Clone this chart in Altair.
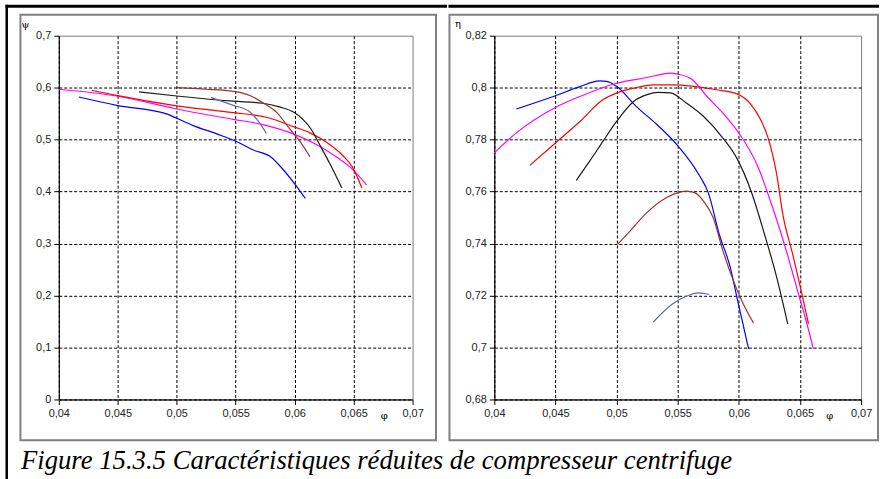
import altair as alt
import pandas as pd

# ---------------- data ----------------
curve_names = ["courbe 1", "courbe 2", "courbe 3", "courbe 4", "courbe 5", "courbe 6"]
curve_colors = ["#0000FF", "#FF00FF", "#FF0000", "#1A1A1A", "#993333", "#6464B4"]

x_ticks = [0.04, 0.045, 0.05, 0.055, 0.06, 0.065, 0.07]
psi_ticks = [0, 0.1, 0.2, 0.3, 0.4, 0.5, 0.6, 0.7]
eta_ticks = [0.68, 0.70, 0.72, 0.74, 0.76, 0.78, 0.80, 0.82]

# Left panel: psi = f(phi)
psi_phi_1 = [0.0417, 0.0449, 0.0492, 0.0500, 0.0514, 0.0534, 0.0551, 0.0565, 0.0579, 0.0590, 0.0600, 0.0609]
psi_val_1 = [0.582, 0.566, 0.549, 0.541, 0.527, 0.511, 0.496, 0.480, 0.468, 0.443, 0.415, 0.387]
psi_phi_2 = [0.0400, 0.0449, 0.0500, 0.0548, 0.0573, 0.0599, 0.0618, 0.0632, 0.0647, 0.0661]
psi_val_2 = [0.597, 0.584, 0.559, 0.539, 0.529, 0.511, 0.491, 0.472, 0.447, 0.413]
psi_phi_3 = [0.0428, 0.0449, 0.0500, 0.0548, 0.0576, 0.0599, 0.0613, 0.0627, 0.0641, 0.0649, 0.0657]
psi_val_3 = [0.595, 0.585, 0.565, 0.552, 0.543, 0.525, 0.513, 0.495, 0.469, 0.447, 0.407]
psi_phi_4 = [0.0468, 0.0500, 0.0548, 0.0573, 0.0587, 0.0599, 0.0607, 0.0614, 0.0621, 0.0630, 0.0640]
psi_val_4 = [0.592, 0.584, 0.574, 0.570, 0.563, 0.553, 0.539, 0.520, 0.491, 0.453, 0.407]
psi_phi_5 = [0.0500, 0.0525, 0.0548, 0.0562, 0.0573, 0.0585, 0.0596, 0.0604, 0.0613]
psi_val_5 = [0.600, 0.597, 0.593, 0.585, 0.571, 0.552, 0.520, 0.498, 0.467]
psi_phi_6 = [0.0529, 0.0548, 0.0561, 0.0568, 0.0576]
psi_val_6 = [0.581, 0.566, 0.555, 0.539, 0.512]

# Right panel: eta = f(phi)
eta_phi_1 = [0.0418, 0.0450, 0.0470, 0.0486, 0.0492, 0.0500, 0.0516, 0.0533, 0.0550, 0.0568, 0.0575, 0.0584, 0.0593, 0.0599, 0.0608]
eta_val_1 = [0.7918, 0.7969, 0.8004, 0.8026, 0.8024, 0.8005, 0.7928, 0.7858, 0.7777, 0.7660, 0.7596, 0.7436, 0.7308, 0.7181, 0.6995]
eta_phi_2 = [0.0400, 0.0418, 0.0450, 0.0470, 0.0500, 0.0525, 0.0544, 0.0550, 0.0561, 0.0574, 0.0587, 0.0599, 0.0616, 0.0624, 0.0633, 0.0642, 0.0648, 0.0655, 0.0661]
eta_val_2 = [0.7749, 0.7826, 0.7924, 0.7966, 0.8017, 0.8039, 0.8056, 0.8052, 0.8034, 0.7966, 0.7902, 0.7832, 0.7692, 0.7589, 0.7462, 0.7321, 0.7219, 0.7104, 0.6995]
eta_phi_3 = [0.0429, 0.0450, 0.0470, 0.0489, 0.0500, 0.0514, 0.0530, 0.0546, 0.0563, 0.0582, 0.0599, 0.0610, 0.0617, 0.0624, 0.0631, 0.0636, 0.0644, 0.0651, 0.0657]
eta_val_3 = [0.7701, 0.7787, 0.7870, 0.7954, 0.7979, 0.7998, 0.8011, 0.8011, 0.8005, 0.7992, 0.7975, 0.7935, 0.7884, 0.7806, 0.7666, 0.7512, 0.7360, 0.7219, 0.7091]
eta_phi_4 = [0.0467, 0.0478, 0.0489, 0.0500, 0.0514, 0.0525, 0.0534, 0.0544, 0.0557, 0.0571, 0.0587, 0.0599, 0.0610, 0.0621, 0.0631, 0.0640]
eta_val_4 = [0.7643, 0.7717, 0.7794, 0.7870, 0.7947, 0.7973, 0.7982, 0.7980, 0.7941, 0.7890, 0.7806, 0.7723, 0.7602, 0.7436, 0.7270, 0.7091]
eta_phi_5 = [0.0501, 0.0510, 0.0525, 0.0541, 0.0552, 0.0557, 0.0564, 0.0571, 0.0579, 0.0587, 0.0595, 0.0603, 0.0612]
eta_val_5 = [0.7398, 0.7443, 0.7520, 0.7577, 0.7598, 0.7602, 0.7596, 0.7564, 0.7500, 0.7372, 0.7264, 0.7174, 0.7094]
eta_phi_6 = [0.0530, 0.0546, 0.0557, 0.0567, 0.0576]
eta_val_6 = [0.7098, 0.7168, 0.7197, 0.7210, 0.7204]

caption = "Figure 15.3.5 Caractéristiques réduites de compresseur centrifuge"

# ---------------- build tables ----------------
def table(pairs, yname):
    rows = []
    for name, (xs, ys) in zip(curve_names, pairs):
        for i, (xv, yv) in enumerate(zip(xs, ys)):
            rows.append({"phi": xv, yname: yv, "curve": name, "idx": i})
    return pd.DataFrame(rows)

psi_df = table([(psi_phi_1, psi_val_1), (psi_phi_2, psi_val_2), (psi_phi_3, psi_val_3),
                (psi_phi_4, psi_val_4), (psi_phi_5, psi_val_5), (psi_phi_6, psi_val_6)], "psi")
eta_df = table([(eta_phi_1, eta_val_1), (eta_phi_2, eta_val_2), (eta_phi_3, eta_val_3),
                (eta_phi_4, eta_val_4), (eta_phi_5, eta_val_5), (eta_phi_6, eta_val_6)], "eta")

label_expr = "replace(format(datum.value, '~g'), '.', ',')"
FRAME_GRAY = "#808080"
LABEL_FONT = "Liberation Sans"

common_axis = dict(
    labelExpr=label_expr, titleAngle=0, titleAlign="center", titleBaseline="middle",
    titleFont="DejaVu Serif", titleFontSize=10, titleFontWeight="normal", titleColor="black",
    domainColor="black", domainWidth=1, tickColor="black", tickSize=5, tickWidth=1,
    labelFont=LABEL_FONT, labelFontSize=11, labelColor="#222222", labelPadding=3,
    gridColor="black", gridDash=[3, 2], gridWidth=1, labelFlush=False, labelOverlap=False,
)

def x_axis(title_x):
    return alt.Axis(values=x_ticks, title="φ", titleX=title_x, titleY=16,
                    gridOpacity={"condition": {"test": "datum.value >= 0.0699", "value": 0}, "value": 1},
                    **common_axis)

def y_axis(values, title, tx, ty, top):
    return alt.Axis(values=values, title=title, titleX=tx, titleY=ty,
                    gridOpacity={"condition": {"test": f"datum.value >= {top - 0.0001}", "value": 0}, "value": 1},
                    **common_axis)

one = alt.Data(values=[{}])

def block(x1, x2, y1, y2):
    return alt.Chart(one).mark_rect(color="black", strokeWidth=0).encode(
        x=alt.value(x1), x2=alt.value(x2), y=alt.value(y1), y2=alt.value(y2))

def panel(df, yname, y_dom, y_vals, ytitle, ytx, yty, xtx, w, h, frame, topline, side_line):
    lines = alt.Chart(df).mark_line(strokeWidth=1.2, interpolate="monotone").encode(
        x=alt.X("phi:Q", scale=alt.Scale(domain=[0.04, 0.07], nice=False, zero=False), axis=x_axis(xtx)),
        y=alt.Y(f"{yname}:Q", scale=alt.Scale(domain=y_dom, nice=False, zero=False),
                axis=y_axis(y_vals, ytitle, ytx, yty, y_dom[1])),
        color=alt.Color("curve:N", scale=alt.Scale(domain=curve_names, range=curve_colors), legend=None),
        order="idx:Q",
    )
    fx1, fx2, fy1, fy2 = frame
    box = alt.Chart(one).mark_rect(filled=False, stroke=FRAME_GRAY, strokeWidth=2).encode(
        x=alt.value(fx1), x2=alt.value(fx2), y=alt.value(fy1), y2=alt.value(fy2))
    layers = [box, lines, block(topline[0], topline[1], -31, -28)]
    if side_line:
        layers.append(block(-53.5, -51, -31, 445))
    return alt.layer(*layers).properties(width=w, height=h)

left = panel(psi_df, "psi", [0, 0.7], psi_ticks, "ψ", -34, -11, 326, 355, 365,
             (-38.5, 378.5, -21, 406), (-53.5, 389.5), True)
right = panel(eta_df, "eta", [0.68, 0.82], eta_ticks, "η", -37, -12, 336, 368, 365,
              (-45, 385, -21, 406), (-46, 386), False)

chart = alt.hconcat(left, right, spacing=0).properties(
    padding={"left": 5, "top": 3, "right": 0, "bottom": 0},
    background="white",
    title=alt.TitleParams(caption, orient="bottom", anchor="start", font="Liberation Serif",
                          fontStyle="italic", fontWeight="normal", fontSize=26.8, color="black",
                          offset=-32, dx=16),
).configure_view(stroke=FRAME_GRAY, strokeWidth=1)

chart.save("out.html", embed_options={"renderer": "svg", "actions": False})
